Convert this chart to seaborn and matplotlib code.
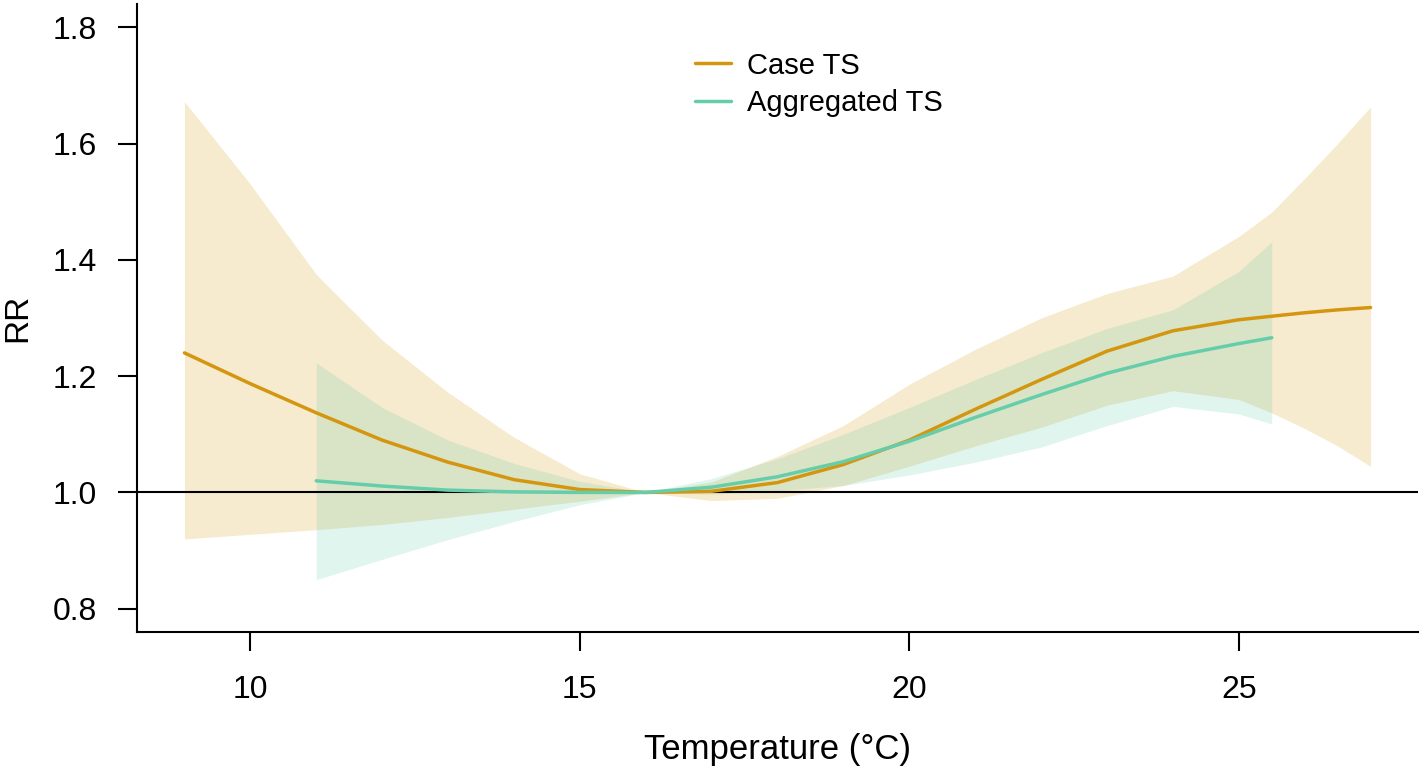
import numpy as np
import pandas as pd
import matplotlib
matplotlib.use("Agg")
from matplotlib import pyplot as plt
import seaborn as sns

# temperature grid (degrees C) and relative risks
case_temp = [9, 10, 11, 12, 13, 14, 15, 16, 17, 18, 19, 20, 21, 22, 23, 24, 25, 25.5, 26, 26.5, 27]
case_rr = [1.240, 1.187, 1.137, 1.090, 1.052, 1.022, 1.005, 1.000, 1.002, 1.017, 1.048,
           1.090, 1.143, 1.194, 1.243, 1.278, 1.297, 1.303, 1.309, 1.314, 1.318]
case_hi = [1.672, 1.530, 1.375, 1.262, 1.172, 1.095, 1.032, 1.000, 1.018, 1.062, 1.115,
           1.186, 1.246, 1.300, 1.342, 1.372, 1.440, 1.482, 1.540, 1.600, 1.663]
case_lo = [0.920, 0.928, 0.936, 0.945, 0.957, 0.971, 0.985, 1.000, 0.986, 0.990, 1.012,
           1.045, 1.080, 1.112, 1.150, 1.175, 1.160, 1.137, 1.110, 1.080, 1.045]

agg_temp = [11, 12, 13, 14, 15, 16, 17, 18, 19, 20, 21, 22, 23, 24, 25, 25.5]
agg_rr = [1.020, 1.011, 1.004, 1.001, 1.000, 1.000, 1.009, 1.027, 1.053, 1.088, 1.129,
          1.168, 1.205, 1.234, 1.256, 1.266]
agg_hi = [1.223, 1.146, 1.090, 1.050, 1.019, 1.000, 1.024, 1.058, 1.100, 1.146, 1.194,
          1.240, 1.282, 1.314, 1.380, 1.431]
agg_lo = [0.850, 0.885, 0.919, 0.950, 0.979, 1.000, 0.997, 1.003, 1.012, 1.030, 1.052,
          1.078, 1.115, 1.148, 1.135, 1.118]

labels = ["Case TS", "Aggregated TS"]
colors = ["#D4960F", "#66CDAA"]

sns.set_style("ticks")
plt.rcParams["font.family"] = ["Liberation Sans", "DejaVu Sans"]
plt.rcParams.update({
    "text.color": "black",
    "axes.labelcolor": "black",
    "axes.edgecolor": "black",
    "xtick.color": "black",
    "ytick.color": "black",
})

frame = pd.concat([
    pd.DataFrame({"temp": case_temp, "rr": case_rr, "lo": case_lo, "hi": case_hi, "model": labels[0]}),
    pd.DataFrame({"temp": agg_temp, "rr": agg_rr, "lo": agg_lo, "hi": agg_hi, "model": labels[1]}),
])

fig = plt.figure(figsize=(14.2, 7.72), dpi=100)
ax = fig.add_axes([137 / 1420, 1 - 632 / 772, (1418 - 137) / 1420, (632 - 4) / 772])

ax.axhline(1.0, color="black", lw=1.5)

# band then curve for each model, so the later band tints the earlier curve
for name, col in zip(labels, colors):
    sub = frame[frame["model"] == name]
    ax.fill_between(sub["temp"], sub["lo"], sub["hi"], color=col, alpha=0.2, linewidth=0)
    sns.lineplot(data=sub, x="temp", y="rr", color=col, lw=2.5, label=name, ax=ax)

ax.set_xlim(8.28, 27.72)
ax.set_ylim(0.76, 1.84)
ax.set_xticks([10, 15, 20, 25])
ax.set_yticks([0.8, 1.0, 1.2, 1.4, 1.6, 1.8])
ax.set_yticklabels(["0.8", "1.0", "1.2", "1.4", "1.6", "1.8"])
ax.tick_params(axis="both", labelsize=23, length=14, width=1.5, direction="out", pad=15)
ax.tick_params(axis="x", pad=17)
ax.set_xlabel("Temperature (°C)", fontsize=25, labelpad=20)
ax.set_ylabel("RR", fontsize=24, labelpad=14)

for side in ["left", "bottom"]:
    ax.spines[side].set_linewidth(1.5)
sns.despine(ax=ax)

leg = ax.legend(loc="upper left", bbox_to_anchor=(0.415, 0.966), frameon=False,
                fontsize=21, handlelength=1.25, handletextpad=0.55, labelspacing=0.33)
for line in leg.get_lines():
    line.set_linewidth(2.5)

plt.savefig("out.png", dpi=100)
